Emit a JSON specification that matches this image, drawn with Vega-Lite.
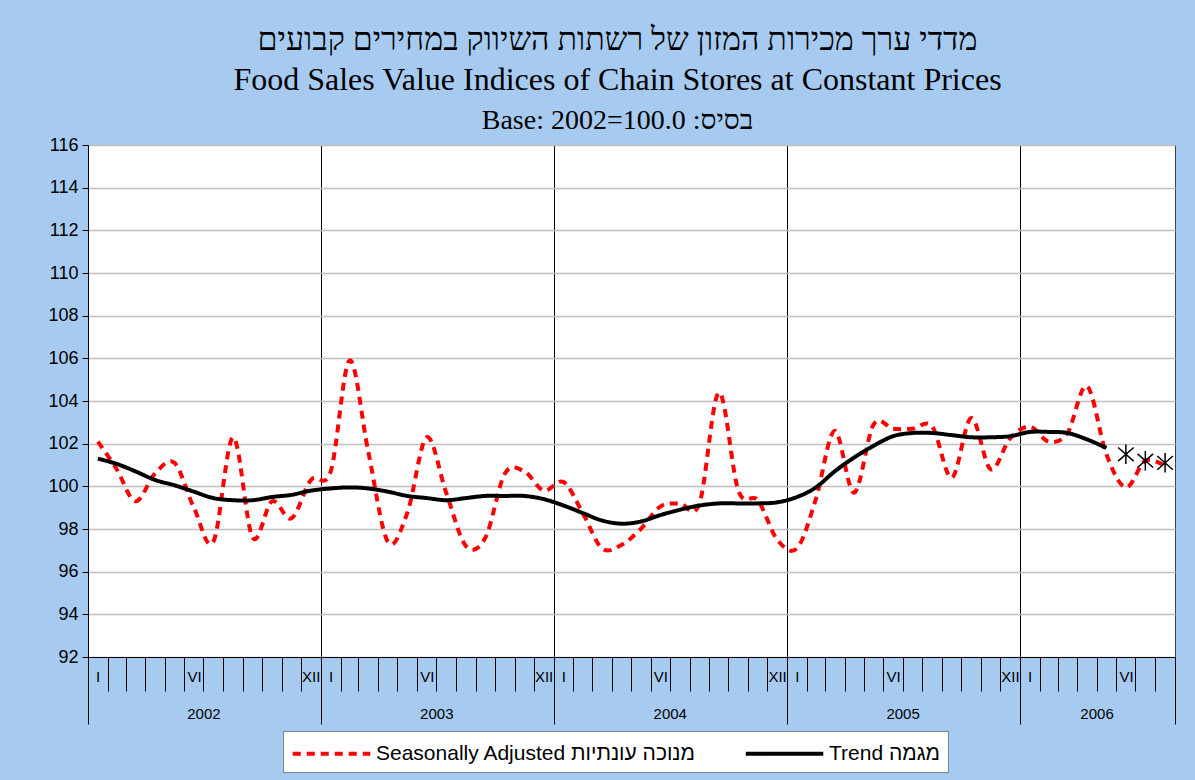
{
  "$schema": "https://vega.github.io/schema/vega-lite/v6.json",
  "width": 1087,
  "height": 512,
  "autosize": "none",
  "padding": {"left": 88, "top": 145, "right": 20, "bottom": 123},
  "background": "#A7CBF0",
  "config": {
    "view": {"fill": "white", "stroke": "#404040", "strokeWidth": 1},
    "axis": {"labelFont": "Liberation Sans", "labelColor": "black", "titleColor": "black"}
  },
  "title": {
    "text": ["מדדי ערך מכירות המזון של רשתות השיווק  במחירים קבועים", "Food Sales Value Indices of Chain Stores at Constant Prices"],
    "subtitle": "Base:  2002=100.0  :בסיס",
    "font": "Liberation Serif",
    "fontSize": 32,
    "fontWeight": "normal",
    "lineHeight": 40,
    "color": "black",
    "subtitleFont": "Liberation Serif",
    "subtitleFontSize": 28,
    "subtitleColor": "black",
    "subtitlePadding": 10,
    "anchor": "middle",
    "dx": -14,
    "offset": 0
  },
  "data": {
    "values": [
      {"date": "2002-01-01", "sa": 102.1, "trend": 101.3},
      {"date": "2002-02-01", "sa": 100.8, "trend": 101.05},
      {"date": "2002-03-01", "sa": 99.3, "trend": 100.7},
      {"date": "2002-04-01", "sa": 100.6, "trend": 100.3},
      {"date": "2002-05-01", "sa": 101.1, "trend": 100.05},
      {"date": "2002-06-01", "sa": 99.0, "trend": 99.75},
      {"date": "2002-07-01", "sa": 97.4, "trend": 99.45},
      {"date": "2002-08-01", "sa": 102.3, "trend": 99.35},
      {"date": "2002-09-01", "sa": 97.6, "trend": 99.35},
      {"date": "2002-10-01", "sa": 99.3, "trend": 99.5},
      {"date": "2002-11-01", "sa": 98.5, "trend": 99.6},
      {"date": "2002-12-01", "sa": 100.3, "trend": 99.8},
      {"date": "2003-01-01", "sa": 100.7, "trend": 99.9},
      {"date": "2003-02-01", "sa": 105.9, "trend": 99.95},
      {"date": "2003-03-01", "sa": 101.6, "trend": 99.9},
      {"date": "2003-04-01", "sa": 97.4, "trend": 99.75},
      {"date": "2003-05-01", "sa": 98.75, "trend": 99.55},
      {"date": "2003-06-01", "sa": 102.3, "trend": 99.45},
      {"date": "2003-07-01", "sa": 99.7, "trend": 99.35},
      {"date": "2003-08-01", "sa": 97.2, "trend": 99.45},
      {"date": "2003-09-01", "sa": 97.6, "trend": 99.55},
      {"date": "2003-10-01", "sa": 100.6, "trend": 99.55},
      {"date": "2003-11-01", "sa": 100.7, "trend": 99.55},
      {"date": "2003-12-01", "sa": 99.8, "trend": 99.4},
      {"date": "2004-01-01", "sa": 100.2, "trend": 99.1},
      {"date": "2004-02-01", "sa": 98.75, "trend": 98.75},
      {"date": "2004-03-01", "sa": 97.1, "trend": 98.4},
      {"date": "2004-04-01", "sa": 97.25, "trend": 98.25},
      {"date": "2004-05-01", "sa": 98.0, "trend": 98.35},
      {"date": "2004-06-01", "sa": 99.05, "trend": 98.65},
      {"date": "2004-07-01", "sa": 99.2, "trend": 98.9},
      {"date": "2004-08-01", "sa": 99.2, "trend": 99.1},
      {"date": "2004-09-01", "sa": 104.4, "trend": 99.2},
      {"date": "2004-10-01", "sa": 99.8, "trend": 99.2},
      {"date": "2004-11-01", "sa": 99.35, "trend": 99.2},
      {"date": "2004-12-01", "sa": 97.5, "trend": 99.25},
      {"date": "2005-01-01", "sa": 97.1, "trend": 99.5},
      {"date": "2005-02-01", "sa": 99.4, "trend": 99.95},
      {"date": "2005-03-01", "sa": 102.6, "trend": 100.7},
      {"date": "2005-04-01", "sa": 99.7, "trend": 101.35},
      {"date": "2005-05-01", "sa": 102.9, "trend": 101.9},
      {"date": "2005-06-01", "sa": 102.7, "trend": 102.35},
      {"date": "2005-07-01", "sa": 102.7, "trend": 102.5},
      {"date": "2005-08-01", "sa": 102.8, "trend": 102.5},
      {"date": "2005-09-01", "sa": 100.4, "trend": 102.4},
      {"date": "2005-10-01", "sa": 103.2, "trend": 102.3},
      {"date": "2005-11-01", "sa": 100.8, "trend": 102.3},
      {"date": "2005-12-01", "sa": 102.25, "trend": 102.35},
      {"date": "2006-01-01", "sa": 102.8, "trend": 102.55},
      {"date": "2006-02-01", "sa": 102.1, "trend": 102.55},
      {"date": "2006-03-01", "sa": 102.5, "trend": 102.5},
      {"date": "2006-04-01", "sa": 104.7, "trend": 102.2},
      {"date": "2006-05-01", "sa": 101.5, "trend": 101.8},
      {"date": "2006-06-01", "sa": 99.95, "trend": null, "trend_prov": 101.5},
      {"date": "2006-07-01", "sa": 101.2, "trend": null, "trend_prov": 101.2},
      {"date": "2006-08-01", "sa": 100.95, "trend": null, "trend_prov": 101.1}
    ]
  },
  "resolve": {"axis": {"x": "independent"}},
  "layer": [
    {
      "transform": [{"fold": ["sa", "trend"], "as": ["series", "value"]}],
      "mark": {"type": "line", "interpolate": "cardinal", "tension": 0, "strokeWidth": 4},
      "encoding": {
        "x": {
          "field": "date", "timeUnit": "utcyearmonth", "type": "temporal", "bandPosition": 0.5,
          "scale": {"domain": [{"year": 2002, "month": 1, "date": 1, "utc": true}, {"year": 2006, "month": 9, "date": 1, "utc": true}]},
          "axis": {
            "orient": "bottom",
            "title": null,
            "tickCount": {"interval": "month", "step": 1},
            "labelExpr": "utcmonth(datum.value)==0 ? 'I' : utcmonth(datum.value)==5 ? 'VI' : utcmonth(datum.value)==11 ? 'XII' : ''",
            "labelOffset": 9.7,
            "labelPadding": {"condition": {"test": "utcmonth(datum.value)==0", "value": -55}, "value": -22},
            "labelFontSize": 15,
            "labelOverlap": false,
            "labelBound": false,
            "labelFlush": false,
            "tickSize": {"condition": {"test": "utcmonth(datum.value)==0 || (utcyear(datum.value)==2006 && utcmonth(datum.value)==8)", "value": 67}, "value": 34},
            "tickColor": "black",
            "tickWidth": 1,
            "domainColor": "black",
            "grid": true,
            "gridColor": "black",
            "gridWidth": 1,
            "gridOpacity": {"condition": {"test": "utcmonth(datum.value)==0", "value": 1}, "value": 0}
          }
        },
        "y": {
          "field": "value", "type": "quantitative",
          "scale": {"domain": [92, 116], "nice": false, "zero": false},
          "axis": {"title": null, "values": [92, 94, 96, 98, 100, 102, 104, 106, 108, 110, 112, 114, 116], "tickSize": 6, "tickColor": "black", "domainColor": "black", "labelFontSize": 18, "labelPadding": 4, "grid": true, "gridColor": "#BFBFBF", "gridWidth": 1.5}
        },
        "color": {
          "field": "series", "type": "nominal",
          "scale": {"domain": ["sa", "trend"], "range": ["#FF0000", "#000000"]},
          "legend": {
            "title": null, "orient": "none", "legendX": 195, "legendY": 586, "direction": "horizontal",
            "fillColor": "white", "strokeColor": "#808080", "padding": 8,
            "labelExpr": "datum.label == 'sa' ? 'Seasonally Adjusted מנוכה עונתיות' : 'Trend מגמה'",
            "labelFont": "Liberation Sans", "labelFontSize": 21, "labelColor": "black", "labelLimit": 0, "labelOffset": 30,
            "symbolType": "M-3.1,0L3.1,0", "symbolSize": 625, "symbolStrokeWidth": 4, "symbolOffset": 26, "columnPadding": 40
          }
        },
        "strokeDash": {
          "field": "series", "type": "nominal",
          "scale": {"domain": ["sa", "trend"], "range": [[8, 6], [1, 0]]},
          "legend": {
            "title": null, "orient": "none", "legendX": 195, "legendY": 586, "direction": "horizontal",
            "fillColor": "white", "strokeColor": "#808080", "padding": 8,
            "labelExpr": "datum.label == 'sa' ? 'Seasonally Adjusted מנוכה עונתיות' : 'Trend מגמה'",
            "labelFont": "Liberation Sans", "labelFontSize": 21, "labelColor": "black", "labelLimit": 0, "labelOffset": 30,
            "symbolType": "M-3.1,0L3.1,0", "symbolSize": 625, "symbolStrokeWidth": 4, "symbolOffset": 26, "columnPadding": 40
          }
        }
      }
    },
    {
      "mark": {"type": "point", "shape": "M0,-1L0,1M-0.8,-0.7L0.8,0.7M-0.8,0.7L0.8,-0.7", "filled": false, "color": "black", "strokeWidth": 1.5, "size": 380, "opacity": 1},
      "encoding": {
        "x": {
          "field": "date", "timeUnit": "utcyearmonth", "type": "temporal", "bandPosition": 0.5,
          "axis": {
            "orient": "bottom",
            "title": null,
            "values": [
              {"year": 2002, "month": 7, "date": 1, "utc": true},
              {"year": 2003, "month": 7, "date": 1, "utc": true},
              {"year": 2004, "month": 7, "date": 1, "utc": true},
              {"year": 2005, "month": 7, "date": 1, "utc": true},
              {"year": 2006, "month": 5, "date": 1, "utc": true}
            ],
            "labelExpr": "'' + utcyear(datum.value)",
            "ticks": false, "tickSize": 0, "domain": false, "grid": false,
            "labelPadding": 49, "labelFontSize": 15,
            "labelOverlap": false, "labelBound": false, "labelFlush": false
          }
        },
        "y": {
          "field": "trend_prov", "type": "quantitative",
          "scale": {"domain": [92, 116], "nice": false, "zero": false},
          "axis": {"title": null, "values": [92, 94, 96, 98, 100, 102, 104, 106, 108, 110, 112, 114, 116], "tickSize": 6, "tickColor": "black", "domainColor": "black", "labelFontSize": 18, "labelPadding": 4, "grid": true, "gridColor": "#BFBFBF", "gridWidth": 1.5}
        }
      }
    }
  ]
}
